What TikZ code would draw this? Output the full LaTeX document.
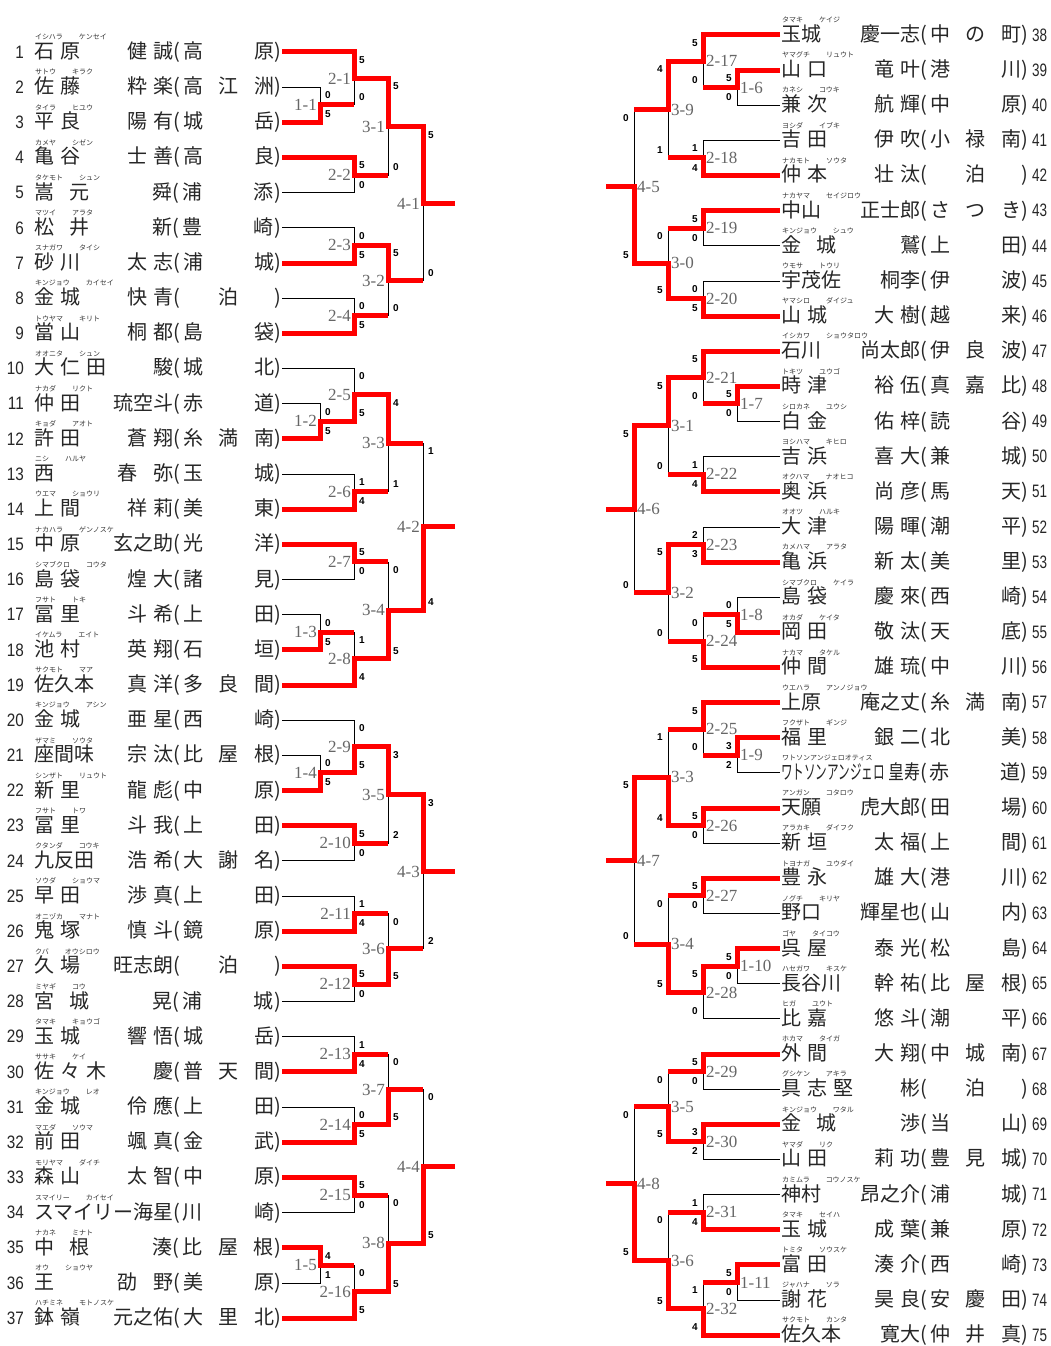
\documentclass[tikz,border=0pt]{standalone}
\usepackage{fontspec}
\usepackage{graphicx}
\setmainfont{Liberation Sans}
\newfontfamily\jpfont{Noto Sans CJK JP}
\newfontfamily\labfamily{Liberation Serif}
\usetikzlibrary{calc}

\pgfdeclarelayer{bg}
\pgfdeclarelayer{lines}
\pgfsetlayers{bg,lines,main}

\newcommand\jpname{\jpfont\fontsize{20}{20}\selectfont}
\newcommand\kanafont{\jpfont\fontsize{7}{7}\selectfont}
\newcommand\numfont{\fontsize{18}{18}\selectfont}
\newcommand\labfont{\labfamily\fontsize{17}{17}\selectfont}
\newcommand\scorefont{\bfseries\fontsize{10}{10}\selectfont}
\newcommand\nsp{\hspace{6pt}}
\newcommand\wsp{\hspace{15pt}}

% surname / given name / school in fixed fields
\newcommand\namebox[3]{\makebox[139pt][s]{#1\hfill #2}\makebox[10pt][l]{(}\makebox[91pt][s]{#3}\makebox[7pt][l]{)}}

% left player: number, kana, kana, surname, given name, school
\newcommand\lpl[6]{%
  \node[pname, anchor=west] (n#1) at (33, {52+(#1-1)*35.17}) {\namebox{#4}{#5}{#6}};
  \node[pnum, anchor=east] (u#1) at ($(n#1.west)+(-9,0)$) {\scalebox{0.85}[1]{#1}};
  \node[kana] (k#1) at ($(n#1.west)+(2,-15)$) {#2\hspace{16pt}#3};
  \coordinate (p#1) at (n#1.east);
}
% right player
\newcommand\rpl[6]{%
  \node[pname, anchor=west] (n#1) at (780, {35+(#1-38)*35.14}) {\namebox{#4}{#5}{#6}};
  \node[pnum, anchor=west] (u#1) at ($(n#1.east)+(3,0)$) {\scalebox{0.75}[1]{#1}};
  \node[kana] (k#1) at ($(n#1.west)+(2,-15)$) {#2\hspace{16pt}#3};
  \coordinate (p#1) at (n#1.west);
}

% match: label, top, bottom, column, next column, winner, top score, bottom score
\newcommand\lmatch[8]{%
  \coordinate (l#1y) at ($(#2)!.5!(#3)$);
  \coordinate (l#1) at (l#1y -| #4);
  \begin{pgfonlayer}{lines}
    \draw[lose] (#2) -| (l#1);
    \draw[lose] (#3) -| (l#1);
  \end{pgfonlayer}
  \draw[win] (#6) -| (l#1) -- (l#1 -| #5);
  \node[mlabel, anchor=east] (l#1t) at ($(l#1)+(-3,0)$) {#1};
  \node[score] (l#1a) at ($(#2 -| #4)+(8,8)$) {#7};
  \node[score] (l#1b) at ($(#3 -| #4)+(8,-8)$) {#8};
}
\newcommand\rmatch[8]{%
  \coordinate (r#1y) at ($(#2)!.5!(#3)$);
  \coordinate (r#1) at (r#1y -| #4);
  \begin{pgfonlayer}{lines}
    \draw[lose] (#2) -| (r#1);
    \draw[lose] (#3) -| (r#1);
  \end{pgfonlayer}
  \draw[win] (#6) -| (r#1) -- (r#1 -| #5);
  \node[mlabel, anchor=west] (r#1t) at ($(r#1)+(3,0)$) {#1};
  \node[score] (r#1a) at ($(#2 -| #4)+(-8,8)$) {#7};
  \node[score] (r#1b) at ($(#3 -| #4)+(-8,-8)$) {#8};
}

\begin{document}
\begin{tikzpicture}[
  x=1pt, y=-1pt,
  win/.style={draw=red, line width=5pt},
  lose/.style={draw=black, line width=0.9pt},
  pname/.style={inner sep=0pt, outer sep=1pt, font=\jpname, text=black!85},
  pnum/.style={inner sep=0pt, font=\numfont, text=black!85},
  kana/.style={inner sep=0pt, anchor=west, font=\kanafont, text=black!80},
  mlabel/.style={inner sep=0pt, font=\labfont, text=black!60},
  score/.style={inner sep=0pt, font=\scorefont},
]
  \begin{pgfonlayer}{bg}
    \fill[white] (0,0) rectangle (1050,1346);
  \end{pgfonlayer}
  \useasboundingbox (0,0) rectangle (1050,1346);

  % columns
  \coordinate (cL1) at (320,0);
  \coordinate (cL2) at (354,0);
  \coordinate (cL3) at (388,0);
  \coordinate (cL4) at (423,0);
  \coordinate (cL5) at (455,0);
  \coordinate (cR1) at (737,0);
  \coordinate (cR2) at (703,0);
  \coordinate (cR3) at (668,0);
  \coordinate (cR4) at (634,0);
  \coordinate (cR5) at (606,0);

  % left players
  \lpl{1}{イシハラ}{ケンセイ}{石\nsp 原}{健\nsp 誠}{高\hfill 原}
  \lpl{2}{サトウ}{キラク}{佐\nsp 藤}{粋\nsp 楽}{高\hfill 江\hfill 洲}
  \lpl{3}{タイラ}{ヒユウ}{平\nsp 良}{陽\nsp 有}{城\hfill 岳}
  \lpl{4}{カメヤ}{シゼン}{亀\nsp 谷}{士\nsp 善}{高\hfill 良}
  \lpl{5}{タケモト}{シュン}{嵩\wsp 元}{舜}{浦\hfill 添}
  \lpl{6}{マツイ}{アラタ}{松\wsp 井}{新}{豊\hfill 崎}
  \lpl{7}{スナガワ}{タイシ}{砂\nsp 川}{太\nsp 志}{浦\hfill 城}
  \lpl{8}{キンジョウ}{カイセイ}{金\nsp 城}{快\nsp 青}{\hfill 泊\hfill}
  \lpl{9}{トウヤマ}{キリト}{當\nsp 山}{桐\nsp 都}{島\hfill 袋}
  \lpl{10}{オオニタ}{シュン}{大\nsp 仁\nsp 田}{駿}{城\hfill 北}
  \lpl{11}{ナカダ}{リクト}{仲\nsp 田}{琉空斗}{赤\hfill 道}
  \lpl{12}{キョダ}{アオト}{許\nsp 田}{蒼\nsp 翔}{糸\hfill 満\hfill 南}
  \lpl{13}{ニシ}{ハルヤ}{西}{春\wsp 弥}{玉\hfill 城}
  \lpl{14}{ウエマ}{ショウリ}{上\nsp 間}{祥\nsp 莉}{美\hfill 東}
  \lpl{15}{ナカハラ}{ゲンノスケ}{中\nsp 原}{玄之助}{光\hfill 洋}
  \lpl{16}{シマブクロ}{コウタ}{島\nsp 袋}{煌\nsp 大}{諸\hfill 見}
  \lpl{17}{フサト}{トキ}{冨\nsp 里}{斗\nsp 希}{上\hfill 田}
  \lpl{18}{イケムラ}{エイト}{池\nsp 村}{英\nsp 翔}{石\hfill 垣}
  \lpl{19}{サクモト}{マア}{佐久本}{真\nsp 洋}{多\hfill 良\hfill 間}
  \lpl{20}{キンジョウ}{アシン}{金\nsp 城}{亜\nsp 星}{西\hfill 崎}
  \lpl{21}{ザマミ}{ソウタ}{座間味}{宗\nsp 汰}{比\hfill 屋\hfill 根}
  \lpl{22}{シンザト}{リュウト}{新\nsp 里}{龍\nsp 彪}{中\hfill 原}
  \lpl{23}{フサト}{トワ}{冨\nsp 里}{斗\nsp 我}{上\hfill 田}
  \lpl{24}{クタンダ}{コウキ}{九反田}{浩\nsp 希}{大\hfill 謝\hfill 名}
  \lpl{25}{ソウダ}{ショウマ}{早\nsp 田}{渉\nsp 真}{上\hfill 田}
  \lpl{26}{オニヅカ}{マナト}{鬼\nsp 塚}{慎\nsp 斗}{鏡\hfill 原}
  \lpl{27}{クバ}{オウシロウ}{久\nsp 場}{旺志朗}{\hfill 泊\hfill}
  \lpl{28}{ミヤギ}{コウ}{宮\wsp 城}{晃}{浦\hfill 城}
  \lpl{29}{タマキ}{キョウゴ}{玉\nsp 城}{響\nsp 悟}{城\hfill 岳}
  \lpl{30}{ササキ}{ケイ}{佐\nsp 々\nsp 木}{慶}{普\hfill 天\hfill 間}
  \lpl{31}{キンジョウ}{レオ}{金\nsp 城}{伶\nsp 應}{上\hfill 田}
  \lpl{32}{マエダ}{ソウマ}{前\nsp 田}{颯\nsp 真}{金\hfill 武}
  \lpl{33}{モリヤマ}{ダイチ}{森\nsp 山}{太\nsp 智}{中\hfill 原}
  \lpl{34}{スマイリー}{カイセイ}{スマイリー}{海星}{川\hfill 崎}
  \lpl{35}{ナカネ}{ミナト}{中\wsp 根}{湊}{比\hfill 屋\hfill 根}
  \lpl{36}{オウ}{ショウヤ}{王}{劭\wsp 野}{美\hfill 原}
  \lpl{37}{ハチミネ}{モトノスケ}{鉢\nsp 嶺}{元之佑}{大\hfill 里\hfill 北}

  % right players
  \rpl{38}{タマキ}{ケイジ}{玉城}{慶一志}{中\hfill の\hfill 町}
  \rpl{39}{ヤマグチ}{リュウト}{山\nsp 口}{竜\nsp 叶}{港\hfill 川}
  \rpl{40}{カネシ}{コウキ}{兼\nsp 次}{航\nsp 輝}{中\hfill 原}
  \rpl{41}{ヨシダ}{イブキ}{吉\nsp 田}{伊\nsp 吹}{小\hfill 禄\hfill 南}
  \rpl{42}{ナカモト}{ソウタ}{仲\nsp 本}{壮\nsp 汰}{\hfill 泊\hfill}
  \rpl{43}{ナカヤマ}{セイジロウ}{中山}{正士郎}{さ\hfill つ\hfill き}
  \rpl{44}{キンジョウ}{シュウ}{金\wsp 城}{鷲}{上\hfill 田}
  \rpl{45}{ウモサ}{トウリ}{宇茂佐}{桐李}{伊\hfill 波}
  \rpl{46}{ヤマシロ}{ダイジュ}{山\nsp 城}{大\nsp 樹}{越\hfill 来}
  \rpl{47}{イシカワ}{ショウタロウ}{石川}{尚太郎}{伊\hfill 良\hfill 波}
  \rpl{48}{トキツ}{ユウゴ}{時\nsp 津}{裕\nsp 伍}{真\hfill 嘉\hfill 比}
  \rpl{49}{シロカネ}{ユウシ}{白\nsp 金}{佑\nsp 梓}{読\hfill 谷}
  \rpl{50}{ヨシハマ}{キヒロ}{吉\nsp 浜}{喜\nsp 大}{兼\hfill 城}
  \rpl{51}{オクハマ}{ナオヒコ}{奥\nsp 浜}{尚\nsp 彦}{馬\hfill 天}
  \rpl{52}{オオツ}{ハルキ}{大\nsp 津}{陽\nsp 暉}{潮\hfill 平}
  \rpl{53}{カメハマ}{アラタ}{亀\nsp 浜}{新\nsp 太}{美\hfill 里}
  \rpl{54}{シマブクロ}{ケイラ}{島\nsp 袋}{慶\nsp 來}{西\hfill 崎}
  \rpl{55}{オカダ}{ケイタ}{岡\nsp 田}{敬\nsp 汰}{天\hfill 底}
  \rpl{56}{ナカマ}{タケル}{仲\nsp 間}{雄\nsp 琉}{中\hfill 川}
  \rpl{57}{ウエハラ}{アンノジョウ}{上原}{庵之丈}{糸\hfill 満\hfill 南}
  \rpl{58}{フクザト}{ギンジ}{福\nsp 里}{銀\nsp 二}{北\hfill 美}
  \rpl{59}{ワトソンアンジェロオティス}{}{\scalebox{0.58}[1]{ワトソンアンジェロ}}{\scalebox{0.8}[1]{皇寿}}{赤\hfill 道}
  \rpl{60}{アンガン}{コタロウ}{天願}{虎大郎}{田\hfill 場}
  \rpl{61}{アラカキ}{ダイフク}{新\nsp 垣}{太\nsp 福}{上\hfill 間}
  \rpl{62}{トヨナガ}{ユウダイ}{豊\nsp 永}{雄\nsp 大}{港\hfill 川}
  \rpl{63}{ノグチ}{キリヤ}{野口}{輝星也}{山\hfill 内}
  \rpl{64}{ゴヤ}{タイコウ}{呉\nsp 屋}{泰\nsp 光}{松\hfill 島}
  \rpl{65}{ハセガワ}{キスケ}{長谷川}{幹\nsp 祐}{比\hfill 屋\hfill 根}
  \rpl{66}{ヒガ}{ユウト}{比\nsp 嘉}{悠\nsp 斗}{潮\hfill 平}
  \rpl{67}{ホカマ}{タイガ}{外\nsp 間}{大\nsp 翔}{中\hfill 城\hfill 南}
  \rpl{68}{グシケン}{アキラ}{具\nsp 志\nsp 堅}{彬}{\hfill 泊\hfill}
  \rpl{69}{キンジョウ}{ワタル}{金\wsp 城}{渉}{当\hfill 山}
  \rpl{70}{ヤマダ}{リク}{山\nsp 田}{莉\nsp 功}{豊\hfill 見\hfill 城}
  \rpl{71}{カミムラ}{コウノスケ}{神村}{昂之介}{浦\hfill 城}
  \rpl{72}{タマキ}{セイハ}{玉\nsp 城}{成\nsp 葉}{兼\hfill 原}
  \rpl{73}{トミタ}{ソウスケ}{富\nsp 田}{湊\nsp 介}{西\hfill 崎}
  \rpl{74}{ジャハナ}{ソラ}{謝\nsp 花}{昊\nsp 良}{安\hfill 慶\hfill 田}
  \rpl{75}{サクモト}{カンタ}{佐久本}{寛大}{仲\hfill 井\hfill 真}

  % left bracket
  \lmatch{1-1}{p2}{p3}{cL1}{cL2}{p3}{0}{5}
  \lmatch{2-1}{p1}{l1-1}{cL2}{cL3}{p1}{5}{0}
  \lmatch{2-2}{p4}{p5}{cL2}{cL3}{p4}{5}{0}
  \lmatch{3-1}{l2-1}{l2-2}{cL3}{cL4}{l2-1}{5}{0}
  \lmatch{2-3}{p6}{p7}{cL2}{cL3}{p7}{0}{5}
  \lmatch{2-4}{p8}{p9}{cL2}{cL3}{p9}{0}{5}
  \lmatch{3-2}{l2-3}{l2-4}{cL3}{cL4}{l2-3}{5}{0}
  \lmatch{4-1}{l3-1}{l3-2}{cL4}{cL5}{l3-1}{5}{0}

  \lmatch{1-2}{p11}{p12}{cL1}{cL2}{p12}{0}{5}
  \lmatch{2-5}{p10}{l1-2}{cL2}{cL3}{l1-2}{0}{5}
  \lmatch{2-6}{p13}{p14}{cL2}{cL3}{p14}{1}{4}
  \lmatch{3-3}{l2-5}{l2-6}{cL3}{cL4}{l2-5}{4}{1}
  \lmatch{2-7}{p15}{p16}{cL2}{cL3}{p15}{5}{0}
  \lmatch{1-3}{p17}{p18}{cL1}{cL2}{p18}{0}{5}
  \lmatch{2-8}{l1-3}{p19}{cL2}{cL3}{p19}{1}{4}
  \lmatch{3-4}{l2-7}{l2-8}{cL3}{cL4}{l2-8}{0}{5}
  \lmatch{4-2}{l3-3}{l3-4}{cL4}{cL5}{l3-4}{1}{4}

  \lmatch{1-4}{p21}{p22}{cL1}{cL2}{p22}{0}{5}
  \lmatch{2-9}{p20}{l1-4}{cL2}{cL3}{l1-4}{0}{5}
  \lmatch{2-10}{p23}{p24}{cL2}{cL3}{p23}{5}{0}
  \lmatch{3-5}{l2-9}{l2-10}{cL3}{cL4}{l2-9}{3}{2}
  \lmatch{2-11}{p25}{p26}{cL2}{cL3}{p26}{1}{4}
  \lmatch{2-12}{p27}{p28}{cL2}{cL3}{p27}{5}{0}
  \lmatch{3-6}{l2-11}{l2-12}{cL3}{cL4}{l2-12}{0}{5}
  \lmatch{4-3}{l3-5}{l3-6}{cL4}{cL5}{l3-5}{3}{2}

  \lmatch{2-13}{p29}{p30}{cL2}{cL3}{p30}{1}{4}
  \lmatch{2-14}{p31}{p32}{cL2}{cL3}{p32}{0}{5}
  \lmatch{3-7}{l2-13}{l2-14}{cL3}{cL4}{l2-14}{0}{5}
  \lmatch{2-15}{p33}{p34}{cL2}{cL3}{p33}{5}{0}
  \lmatch{1-5}{p35}{p36}{cL1}{cL2}{p35}{4}{1}
  \lmatch{2-16}{l1-5}{p37}{cL2}{cL3}{p37}{0}{5}
  \lmatch{3-8}{l2-15}{l2-16}{cL3}{cL4}{l2-16}{0}{5}
  \lmatch{4-4}{l3-7}{l3-8}{cL4}{cL5}{l3-8}{0}{5}

  % right bracket
  \rmatch{1-6}{p39}{p40}{cR1}{cR2}{p39}{5}{0}
  \rmatch{2-17}{p38}{r1-6}{cR2}{cR3}{p38}{5}{0}
  \rmatch{2-18}{p41}{p42}{cR2}{cR3}{p42}{1}{4}
  \rmatch{3-9}{r2-17}{r2-18}{cR3}{cR4}{r2-17}{4}{1}
  \rmatch{2-19}{p43}{p44}{cR2}{cR3}{p43}{5}{0}
  \rmatch{2-20}{p45}{p46}{cR2}{cR3}{p46}{0}{5}
  \rmatch{3-0}{r2-19}{r2-20}{cR3}{cR4}{r2-20}{0}{5}
  \rmatch{4-5}{r3-9}{r3-0}{cR4}{cR5}{r3-0}{0}{5}

  \rmatch{1-7}{p48}{p49}{cR1}{cR2}{p48}{5}{0}
  \rmatch{2-21}{p47}{r1-7}{cR2}{cR3}{p47}{5}{0}
  \rmatch{2-22}{p50}{p51}{cR2}{cR3}{p51}{1}{4}
  \rmatch{3-1}{r2-21}{r2-22}{cR3}{cR4}{r2-21}{5}{0}
  \rmatch{2-23}{p52}{p53}{cR2}{cR3}{p53}{2}{3}
  \rmatch{1-8}{p54}{p55}{cR1}{cR2}{p55}{0}{5}
  \rmatch{2-24}{r1-8}{p56}{cR2}{cR3}{p56}{0}{5}
  \rmatch{3-2}{r2-23}{r2-24}{cR3}{cR4}{r2-23}{5}{0}
  \rmatch{4-6}{r3-1}{r3-2}{cR4}{cR5}{r3-1}{5}{0}

  \rmatch{1-9}{p58}{p59}{cR1}{cR2}{p58}{3}{2}
  \rmatch{2-25}{p57}{r1-9}{cR2}{cR3}{p57}{5}{0}
  \rmatch{2-26}{p60}{p61}{cR2}{cR3}{p60}{5}{0}
  \rmatch{3-3}{r2-25}{r2-26}{cR3}{cR4}{r2-26}{1}{4}
  \rmatch{2-27}{p62}{p63}{cR2}{cR3}{p62}{5}{0}
  \rmatch{1-10}{p64}{p65}{cR1}{cR2}{p64}{5}{0}
  \rmatch{2-28}{r1-10}{p66}{cR2}{cR3}{r1-10}{5}{0}
  \rmatch{3-4}{r2-27}{r2-28}{cR3}{cR4}{r2-28}{0}{5}
  \rmatch{4-7}{r3-3}{r3-4}{cR4}{cR5}{r3-3}{5}{0}

  \rmatch{2-29}{p67}{p68}{cR2}{cR3}{p67}{5}{0}
  \rmatch{2-30}{p69}{p70}{cR2}{cR3}{p69}{3}{2}
  \rmatch{3-5}{r2-29}{r2-30}{cR3}{cR4}{r2-30}{0}{5}
  \rmatch{2-31}{p71}{p72}{cR2}{cR3}{p72}{1}{4}
  \rmatch{1-11}{p73}{p74}{cR1}{cR2}{p73}{5}{0}
  \rmatch{2-32}{r1-11}{p75}{cR2}{cR3}{p75}{1}{4}
  \rmatch{3-6}{r2-31}{r2-32}{cR3}{cR4}{r2-32}{0}{5}
  \rmatch{4-8}{r3-5}{r3-6}{cR4}{cR5}{r3-6}{0}{5}
\end{tikzpicture}
\end{document}
